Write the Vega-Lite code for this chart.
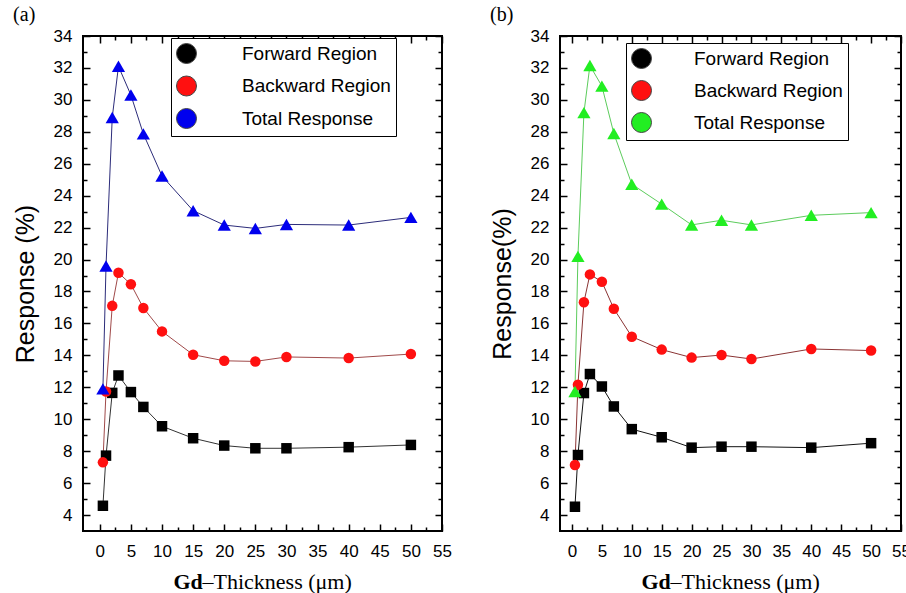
{
  "$schema": "https://vega.github.io/schema/vega-lite/v6.json",
  "background": "white",
  "padding": {"left": 12, "top": 4, "right": 5, "bottom": 0},
  "spacing": 36,
  "data": {"values": [
    {"panel":"a","series":"Forward Region","x":0.5,"y":4.58},
    {"panel":"a","series":"Forward Region","x":1,"y":7.72},
    {"panel":"a","series":"Forward Region","x":2,"y":11.65},
    {"panel":"a","series":"Forward Region","x":3,"y":12.74},
    {"panel":"a","series":"Forward Region","x":5,"y":11.7},
    {"panel":"a","series":"Forward Region","x":7,"y":10.77},
    {"panel":"a","series":"Forward Region","x":10,"y":9.56},
    {"panel":"a","series":"Forward Region","x":15,"y":8.81},
    {"panel":"a","series":"Forward Region","x":20,"y":8.35},
    {"panel":"a","series":"Forward Region","x":25,"y":8.18},
    {"panel":"a","series":"Forward Region","x":30,"y":8.18},
    {"panel":"a","series":"Forward Region","x":40,"y":8.25},
    {"panel":"a","series":"Forward Region","x":50,"y":8.39},
    {"panel":"a","series":"Backward Region","x":0.5,"y":7.3},
    {"panel":"a","series":"Backward Region","x":1,"y":11.74},
    {"panel":"a","series":"Backward Region","x":2,"y":17.1},
    {"panel":"a","series":"Backward Region","x":3,"y":19.17},
    {"panel":"a","series":"Backward Region","x":5,"y":18.45},
    {"panel":"a","series":"Backward Region","x":7,"y":16.97},
    {"panel":"a","series":"Backward Region","x":10,"y":15.5},
    {"panel":"a","series":"Backward Region","x":15,"y":14.04},
    {"panel":"a","series":"Backward Region","x":20,"y":13.66},
    {"panel":"a","series":"Backward Region","x":25,"y":13.62},
    {"panel":"a","series":"Backward Region","x":30,"y":13.9},
    {"panel":"a","series":"Backward Region","x":40,"y":13.83},
    {"panel":"a","series":"Backward Region","x":50,"y":14.08},
    {"panel":"a","series":"Total Response","x":0.5,"y":11.9},
    {"panel":"a","series":"Total Response","x":1,"y":19.6},
    {"panel":"a","series":"Total Response","x":2,"y":28.9},
    {"panel":"a","series":"Total Response","x":3,"y":32.1},
    {"panel":"a","series":"Total Response","x":5,"y":30.3},
    {"panel":"a","series":"Total Response","x":7,"y":27.87},
    {"panel":"a","series":"Total Response","x":10,"y":25.23},
    {"panel":"a","series":"Total Response","x":15,"y":23.06},
    {"panel":"a","series":"Total Response","x":20,"y":22.16},
    {"panel":"a","series":"Total Response","x":25,"y":21.95},
    {"panel":"a","series":"Total Response","x":30,"y":22.2},
    {"panel":"a","series":"Total Response","x":40,"y":22.16},
    {"panel":"a","series":"Total Response","x":50,"y":22.64},
    {"panel":"b","series":"Forward Region","x":0.5,"y":4.52},
    {"panel":"b","series":"Forward Region","x":1,"y":7.76},
    {"panel":"b","series":"Forward Region","x":2,"y":11.64},
    {"panel":"b","series":"Forward Region","x":3,"y":12.83},
    {"panel":"b","series":"Forward Region","x":5,"y":12.05},
    {"panel":"b","series":"Forward Region","x":7,"y":10.8},
    {"panel":"b","series":"Forward Region","x":10,"y":9.38},
    {"panel":"b","series":"Forward Region","x":15,"y":8.87},
    {"panel":"b","series":"Forward Region","x":20,"y":8.22},
    {"panel":"b","series":"Forward Region","x":25,"y":8.28},
    {"panel":"b","series":"Forward Region","x":30,"y":8.28},
    {"panel":"b","series":"Forward Region","x":40,"y":8.22},
    {"panel":"b","series":"Forward Region","x":50,"y":8.5},
    {"panel":"b","series":"Backward Region","x":0.5,"y":7.13},
    {"panel":"b","series":"Backward Region","x":1,"y":12.16},
    {"panel":"b","series":"Backward Region","x":2,"y":17.33},
    {"panel":"b","series":"Backward Region","x":3,"y":19.07},
    {"panel":"b","series":"Backward Region","x":5,"y":18.61},
    {"panel":"b","series":"Backward Region","x":7,"y":16.92},
    {"panel":"b","series":"Backward Region","x":10,"y":15.17},
    {"panel":"b","series":"Backward Region","x":15,"y":14.36},
    {"panel":"b","series":"Backward Region","x":20,"y":13.86},
    {"panel":"b","series":"Backward Region","x":25,"y":14.02},
    {"panel":"b","series":"Backward Region","x":30,"y":13.77},
    {"panel":"b","series":"Backward Region","x":40,"y":14.4},
    {"panel":"b","series":"Backward Region","x":50,"y":14.3},
    {"panel":"b","series":"Total Response","x":0.5,"y":11.74},
    {"panel":"b","series":"Total Response","x":1,"y":20.2},
    {"panel":"b","series":"Total Response","x":2,"y":29.2},
    {"panel":"b","series":"Total Response","x":3,"y":32.15},
    {"panel":"b","series":"Total Response","x":5,"y":30.86},
    {"panel":"b","series":"Total Response","x":7,"y":27.9},
    {"panel":"b","series":"Total Response","x":10,"y":24.72},
    {"panel":"b","series":"Total Response","x":15,"y":23.47},
    {"panel":"b","series":"Total Response","x":20,"y":22.17},
    {"panel":"b","series":"Total Response","x":25,"y":22.46},
    {"panel":"b","series":"Total Response","x":30,"y":22.17},
    {"panel":"b","series":"Total Response","x":40,"y":22.77},
    {"panel":"b","series":"Total Response","x":50,"y":22.94}
  ]},
  "resolve": {
    "scale": {"fill": "independent"},
    "legend": {"fill": "independent"}
  },
  "hconcat": [
    {
      "width": 359,
      "height": 495,
      "title": {"text": "(a)"},
      "transform": [{"filter": "datum.panel === 'a'"}],
      "layer": [
        {
          "mark": {"type": "line", "strokeWidth": 1},
          "encoding": {
            "x": {"field": "x", "type": "quantitative", "scale": {"domain": [-2.7, 55], "nice": false, "zero": false},
              "axis": {"orient": "bottom", "values": [0,5,10,15,20,25,30,35,40,45,50,55],
                "tickSize": -7, "labelPadding": 19, "labelOverlap": false, "labelFlush": false,
                "title": "–Thickness (μm)", "titleFont": "Liberation Serif", "titleFontSize": 22, "titleFontWeight": "normal",
                "titleAlign": "left", "titleBaseline": "alphabetic", "titleX": 119, "titleY": 57}},
            "y": {"field": "y", "type": "quantitative", "scale": {"domain": [3, 34], "nice": false, "zero": false},
              "axis": {"orient": "left", "values": [4,6,8,10,12,14,16,18,20,22,24,26,28,30,32,34],
                "tickSize": -7, "labelPadding": 18, "labelOverlap": false, "labelFlush": false,
                "title": "Response (%)", "titleFont": "Liberation Sans", "titleFontSize": 25, "titleFontWeight": "normal", "titlePadding": 15}},
            "detail": {"field": "series", "type": "nominal"},
            "stroke": {"condition": [{"test": "datum.series === 'Forward Region'", "value": "#333333"}, {"test": "datum.series === 'Backward Region'", "value": "#a04a4a"}], "value": "#2c2c7a"}
          }
        },
        {
          "mark": {"type": "point", "filled": true, "opacity": 1, "strokeWidth": 0},
          "encoding": {
            "x": {"field": "x", "type": "quantitative", "scale": {"domain": [-2.7, 55], "nice": false, "zero": false},
              "axis": {"orient": "top", "values": [0,5,10,15,20,25,30,35,40,45,50,55], "tickSize": -7, "labels": false, "title": null}},
            "y": {"field": "y", "type": "quantitative", "scale": {"domain": [3, 34], "nice": false, "zero": false},
              "axis": {"orient": "right", "values": [4,6,8,10,12,14,16,18,20,22,24,26,28,30,32,34], "tickSize": -7, "labels": false, "title": null}},
            "fill": {"field": "series", "type": "nominal",
              "scale": {"domain": ["Forward Region", "Backward Region", "Total Response"], "range": ["#000000", "#ff1010", "#0000ee"]},
              "legend": {"orient": "none", "legendX": 88, "legendY": 2, "title": null,
                "symbolSize": 400, "symbolStrokeWidth": 1, "symbolStrokeColor": "#444444", "labelOffset": 45, "labelFont": "Liberation Sans", "labelFontSize": 19, "labelColor": "black",
                "labelLimit": 300,
                "rowPadding": 7.5, "padding": 5, "strokeColor": "black", "fillColor": "white",
                "encode": {"symbols": {
                  "shape": {"value": {"expr": "datum.value === 'Forward Region' ? 'M-1.05,0H0.9M2.3,0H4.25M1.1,-0.5H2.1V0.5H1.1ZM22.85,0' : datum.value === 'Backward Region' ? 'M-1.05,0H0.9M2.3,0H4.25M2.2,0A0.6,0.6,0,1,1,1,0A0.6,0.6,0,1,1,2.2,0ZM22.85,0' : 'M-1.05,0H0.9M2.3,0H4.25M1.6,-0.6L2.3,0.6L0.9,0.6ZM22.85,0'"}},
                  "stroke": {"value": {"expr": "datum.value === 'Forward Region' ? '#333333' : datum.value === 'Backward Region' ? '#a04a4a' : '#2c2c7a'"}},
                  "strokeWidth": {"value": 1}
                }}}},
            "shape": {"field": "series", "type": "nominal",
              "scale": {"domain": ["Total Response", "Backward Region", "Forward Region"], "range": ["triangle-up", "circle", "square"]},
              "legend": null},
            "size": {"condition": {"test": "datum.series === 'Total Response'", "value": 175}, "value": 110}
          }
        },
        {
          "mark": {"type": "point", "opacity": 0},
          "encoding": {
            "x": {"field": "x", "type": "quantitative", "scale": {"domain": [-2.7, 55], "nice": false, "zero": false},
              "axis": {"orient": "bottom", "values": [2.5,7.5,12.5,17.5,22.5,27.5,32.5,37.5,42.5,47.5,52.5], "tickSize": -4, "labels": false,
                "title": "Gd", "titleFont": "Liberation Serif", "titleFontSize": 22, "titleFontWeight": "bold",
                "titleAlign": "left", "titleBaseline": "alphabetic", "titleX": 90, "titleY": 57}},
            "y": {"field": "y", "type": "quantitative", "scale": {"domain": [3, 34], "nice": false, "zero": false},
              "axis": {"orient": "left", "values": [5,7,9,11,13,15,17,19,21,23,25,27,29,31,33], "tickSize": -4, "labels": false, "title": null}}
          }
        },
        {
          "mark": {"type": "point", "opacity": 0},
          "encoding": {
            "x": {"field": "x", "type": "quantitative", "scale": {"domain": [-2.7, 55], "nice": false, "zero": false},
              "axis": {"orient": "top", "values": [2.5,7.5,12.5,17.5,22.5,27.5,32.5,37.5,42.5,47.5,52.5], "tickSize": -4, "labels": false, "title": null}},
            "y": {"field": "y", "type": "quantitative", "scale": {"domain": [3, 34], "nice": false, "zero": false},
              "axis": {"orient": "right", "values": [5,7,9,11,13,15,17,19,21,23,25,27,29,31,33], "tickSize": -4, "labels": false, "title": null}}
          }
        }
      ],
      "resolve": {"axis": {"x": "independent", "y": "independent"}}
    },
    {
      "width": 341,
      "height": 495,
      "title": {"text": "(b)"},
      "transform": [{"filter": "datum.panel === 'b'"}],
      "layer": [
        {
          "mark": {"type": "line", "strokeWidth": 1},
          "encoding": {
            "x": {"field": "x", "type": "quantitative", "scale": {"domain": [-2, 55], "nice": false, "zero": false},
              "axis": {"orient": "bottom", "values": [0,5,10,15,20,25,30,35,40,45,50,55],
                "tickSize": -7, "labelPadding": 19, "labelOverlap": false, "labelFlush": false,
                "title": "–Thickness (μm)", "titleFont": "Liberation Serif", "titleFontSize": 22, "titleFontWeight": "normal",
                "titleAlign": "left", "titleBaseline": "alphabetic", "titleX": 110, "titleY": 57}},
            "y": {"field": "y", "type": "quantitative", "scale": {"domain": [3, 34], "nice": false, "zero": false},
              "axis": {"orient": "left", "values": [4,6,8,10,12,14,16,18,20,22,24,26,28,30,32,34],
                "tickSize": -7, "labelPadding": 18, "labelOverlap": false, "labelFlush": false,
                "title": "Response(%)", "titleFont": "Liberation Sans", "titleFontSize": 25, "titleFontWeight": "normal", "titlePadding": 15}},
            "detail": {"field": "series", "type": "nominal"},
            "stroke": {"condition": [{"test": "datum.series === 'Forward Region'", "value": "#111111"}, {"test": "datum.series === 'Backward Region'", "value": "#8a3434"}], "value": "#5ccc5c"}
          }
        },
        {
          "mark": {"type": "point", "filled": true, "opacity": 1, "strokeWidth": 0},
          "encoding": {
            "x": {"field": "x", "type": "quantitative", "scale": {"domain": [-2, 55], "nice": false, "zero": false},
              "axis": {"orient": "top", "values": [0,5,10,15,20,25,30,35,40,45,50,55], "tickSize": -7, "labels": false, "title": null}},
            "y": {"field": "y", "type": "quantitative", "scale": {"domain": [3, 34], "nice": false, "zero": false},
              "axis": {"orient": "right", "values": [4,6,8,10,12,14,16,18,20,22,24,26,28,30,32,34], "tickSize": -7, "labels": false, "title": null}},
            "fill": {"field": "series", "type": "nominal",
              "scale": {"domain": ["Forward Region", "Backward Region", "Total Response"], "range": ["#000000", "#ff1010", "#22ee22"]},
              "legend": {"orient": "none", "legendX": 66, "legendY": 7, "title": null,
                "symbolSize": 400, "symbolStrokeWidth": 1, "symbolStrokeColor": "#444444", "labelOffset": 42, "labelFont": "Liberation Sans", "labelFontSize": 19, "labelColor": "black",
                "labelLimit": 300,
                "rowPadding": 7, "padding": 5, "strokeColor": "black", "fillColor": "white",
                "encode": {"symbols": {
                  "shape": {"value": {"expr": "datum.value === 'Forward Region' ? 'M-1.05,0H1.1M2.1,0H4.25M1.1,-0.5H2.1V0.5H1.1ZM22.65,0' : datum.value === 'Backward Region' ? 'M-1.05,0H1M2.2,0H4.25M2.2,0A0.6,0.6,0,1,1,1,0A0.6,0.6,0,1,1,2.2,0ZM22.65,0' : 'M-1.05,0H1.25M1.95,0H4.25M1.6,-0.6L2.3,0.6L0.9,0.6ZM22.65,0'"}},
                  "stroke": {"value": {"expr": "datum.value === 'Forward Region' ? '#111111' : datum.value === 'Backward Region' ? '#8a3434' : '#5ccc5c'"}},
                  "strokeWidth": {"value": 1}
                }}}},
            "shape": {"field": "series", "type": "nominal",
              "scale": {"domain": ["Total Response", "Backward Region", "Forward Region"], "range": ["triangle-up", "circle", "square"]},
              "legend": null},
            "size": {"condition": {"test": "datum.series === 'Total Response'", "value": 175}, "value": 110}
          }
        },
        {
          "mark": {"type": "point", "opacity": 0},
          "encoding": {
            "x": {"field": "x", "type": "quantitative", "scale": {"domain": [-2, 55], "nice": false, "zero": false},
              "axis": {"orient": "bottom", "values": [2.5,7.5,12.5,17.5,22.5,27.5,32.5,37.5,42.5,47.5,52.5], "tickSize": -4, "labels": false,
                "title": "Gd", "titleFont": "Liberation Serif", "titleFontSize": 22, "titleFontWeight": "bold",
                "titleAlign": "left", "titleBaseline": "alphabetic", "titleX": 81, "titleY": 57}},
            "y": {"field": "y", "type": "quantitative", "scale": {"domain": [3, 34], "nice": false, "zero": false},
              "axis": {"orient": "left", "values": [5,7,9,11,13,15,17,19,21,23,25,27,29,31,33], "tickSize": -4, "labels": false, "title": null}}
          }
        },
        {
          "mark": {"type": "point", "opacity": 0},
          "encoding": {
            "x": {"field": "x", "type": "quantitative", "scale": {"domain": [-2, 55], "nice": false, "zero": false},
              "axis": {"orient": "top", "values": [2.5,7.5,12.5,17.5,22.5,27.5,32.5,37.5,42.5,47.5,52.5], "tickSize": -4, "labels": false, "title": null}},
            "y": {"field": "y", "type": "quantitative", "scale": {"domain": [3, 34], "nice": false, "zero": false},
              "axis": {"orient": "right", "values": [5,7,9,11,13,15,17,19,21,23,25,27,29,31,33], "tickSize": -4, "labels": false, "title": null}}
          }
        }
      ],
      "resolve": {"axis": {"x": "independent", "y": "independent"}}
    }
  ],
  "config": {
    "view": {"stroke": "black", "strokeWidth": 2},
    "axis": {"domain": false, "grid": false, "tickColor": "black", "tickWidth": 1.5,
      "labelColor": "black", "labelFont": "Liberation Sans", "labelFontSize": 17, "titleColor": "black"},
    "title": {"font": "Liberation Serif", "fontSize": 20, "fontWeight": "normal", "color": "black", "anchor": "start", "frame": "bounds", "offset": 2}
  }
}
